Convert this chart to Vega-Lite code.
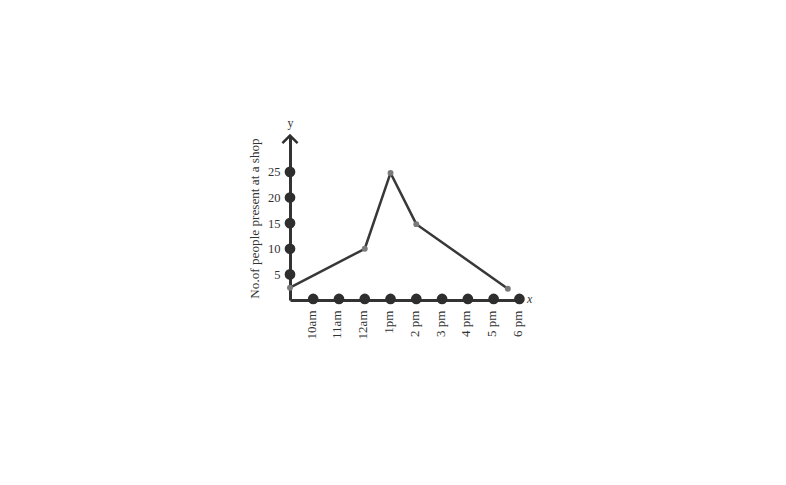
{
  "$schema": "https://vega.github.io/schema/vega-lite/v6.json",
  "autosize": {"type": "none"},
  "padding": {"left": 290, "top": 136, "right": 264, "bottom": 185},
  "width": 232,
  "height": 164,
  "background": "white",
  "config": {"view": {"stroke": null}, "font": "Liberation Serif"},
  "datasets": {
    "line": [
      {"pos": 0.1, "value": 2.4},
      {"pos": 3, "value": 10},
      {"pos": 4, "value": 24.8},
      {"pos": 5, "value": 14.8},
      {"pos": 8.55, "value": 2.2}
    ],
    "xdots": [
      {"pos": 1, "value": 0.2}, {"pos": 2, "value": 0.2}, {"pos": 3, "value": 0.2},
      {"pos": 4, "value": 0.2}, {"pos": 5, "value": 0.2}, {"pos": 6, "value": 0.2},
      {"pos": 7, "value": 0.2}, {"pos": 8, "value": 0.2}, {"pos": 9, "value": 0.2}
    ],
    "ydots": [
      {"pos": 0.1, "value": 5}, {"pos": 0.1, "value": 10}, {"pos": 0.1, "value": 15},
      {"pos": 0.1, "value": 20}, {"pos": 0.1, "value": 25}
    ],
    "arrow": [{"pos": 0.1, "value": 31.8}],
    "xletter": [{"pos": 9.4, "value": 0.2, "label": "x"}],
    "yletter": [{"pos": 0.12, "value": 34.6, "label": "y"}]
  },
  "encoding": {
    "x": {
      "field": "pos", "type": "quantitative",
      "scale": {"domain": [0.1, 9.1], "nice": false, "zero": false},
      "axis": {
        "values": [1, 2, 3, 4, 5, 6, 7, 8, 9],
        "labelExpr": "['', '10am', '11am', '12am', '1pm', '2 pm', '3 pm', '4 pm', '5 pm', '6 pm'][datum.value]",
        "labelAngle": -90,
        "labelPadding": 10,
        "labelOffset": -2,
        "labelFontSize": 13,
        "labelColor": "#333333",
        "labelFont": "Liberation Serif",
        "ticks": false,
        "tickSize": 0,
        "grid": false,
        "domainColor": "#333333",
        "domainWidth": 3,
        "title": null
      }
    },
    "y": {
      "field": "value", "type": "quantitative",
      "scale": {"domain": [0, 32], "nice": false, "zero": false},
      "axis": {
        "values": [5, 10, 15, 20, 25],
        "labelPadding": 10,
        "labelFontSize": 12.5,
        "labelColor": "#333333",
        "labelFont": "Liberation Serif",
        "ticks": false,
        "tickSize": 0,
        "grid": false,
        "domainColor": "#333333",
        "domainWidth": 3,
        "title": "No.of people present at a shop",
        "titleFont": "Liberation Serif",
        "titleFontSize": 13.2,
        "titleFontWeight": "normal",
        "titleColor": "#333333",
        "titleAngle": -90,
        "titleX": -36,
        "titleY": 82,
        "titleAlign": "center",
        "titleBaseline": "middle"
      }
    }
  },
  "layer": [
    {
      "data": {"name": "line"},
      "mark": {"type": "line", "color": "#383838", "strokeWidth": 2.5, "clip": false}
    },
    {
      "data": {"name": "line"},
      "mark": {"type": "point", "filled": true, "color": "#7a7a7a", "size": 35, "opacity": 1, "clip": false}
    },
    {
      "data": {"name": "xdots"},
      "mark": {"type": "point", "filled": true, "color": "#2e2e2e", "size": 115, "opacity": 1, "clip": false}
    },
    {
      "data": {"name": "ydots"},
      "mark": {"type": "point", "filled": true, "color": "#2e2e2e", "size": 115, "opacity": 1, "clip": false}
    },
    {
      "data": {"name": "arrow"},
      "mark": {"type": "point", "filled": false, "shape": "M -1 0.8 L 0 -0.2 L 1 0.8", "color": "#2e2e2e", "strokeWidth": 2.5, "size": 230, "opacity": 1, "clip": false}
    },
    {
      "data": {"name": "xletter"},
      "mark": {"type": "text", "fontSize": 12, "fontStyle": "italic", "color": "#333333", "font": "Liberation Serif", "align": "center", "baseline": "middle", "clip": false},
      "encoding": {"text": {"field": "label"}}
    },
    {
      "data": {"name": "yletter"},
      "mark": {"type": "text", "fontSize": 12, "color": "#333333", "font": "Liberation Serif", "align": "center", "baseline": "middle", "clip": false},
      "encoding": {"text": {"field": "label"}}
    }
  ]
}
